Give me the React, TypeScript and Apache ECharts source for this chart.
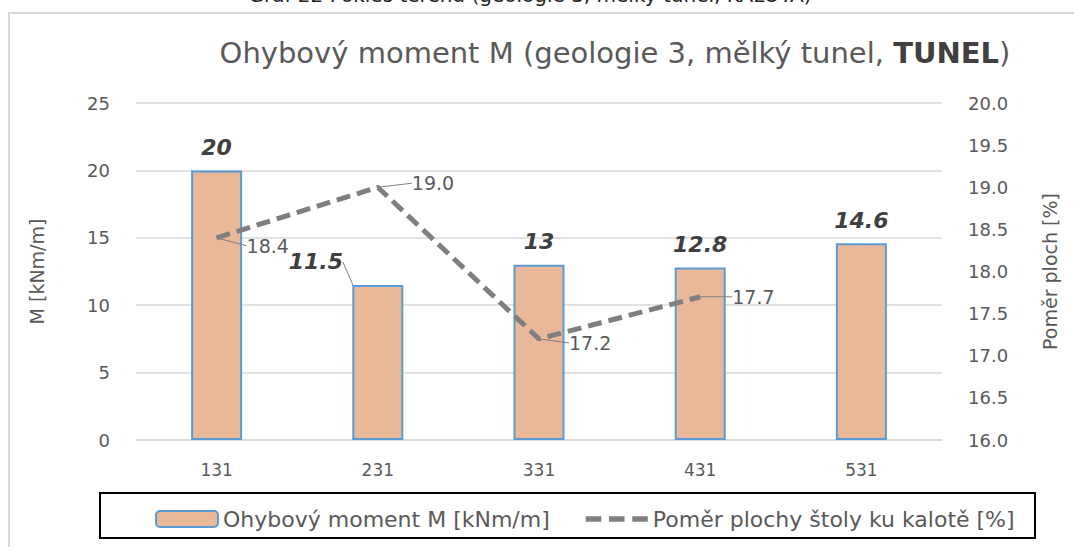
import React, { useEffect, useRef } from "react";
import * as echarts from "echarts";

const categories = ["131", "231", "331", "431", "531"];
const momentValues = [20, 11.5, 13, 12.8, 14.6];
const ratioValues: (number | null)[] = [18.4, 19.0, 17.2, 17.7, null];
const leftTicks = { min: 0, max: 25, interval: 5 };
const rightTicks = { min: 16, max: 20, interval: 0.5 };

const barLabelShift = [
  { dx: 0, dy: 0 },
  { dx: -62, dy: 0 },
  { dx: 0, dy: 0 },
  { dx: 0, dy: 0 },
  { dx: 0, dy: 0 },
];
const lineLabelShift = [
  { dx: 28, dy: 8 },
  { dx: 32, dy: -4 },
  { dx: 28, dy: 4 },
  { dx: 30, dy: 0 },
  { dx: 0, dy: 0 },
];

const FONT = "'DejaVu Sans', 'Noto Sans', sans-serif";
const GRAY = "#595959";

export default function App() {
  const ref = useRef<HTMLDivElement>(null);
  useEffect(() => {
    if (!ref.current) return;
    const chart = echarts.init(ref.current, null, { renderer: "svg" });
    const barData = momentValues.map((v, i) => ({
      value: v,
      labelLine: { show: barLabelShift[i].dx !== 0 },
    }));
    chart.setOption({
      animation: false,
      backgroundColor: "#ffffff",
      textStyle: { fontFamily: FONT },
      title: {
        text: "{a|Ohybový moment M (geologie 3, mělký tunel, }{b|TUNEL}{a|)}",
        left: 610,
        textAlign: "center",
        top: 33,
        textStyle: {
          fontWeight: "normal",
          rich: {
            a: { fontSize: 29, color: GRAY, fontFamily: FONT, fontWeight: "normal" },
            b: { fontSize: 29, color: "#404040", fontWeight: "bold", fontFamily: FONT },
          },
        },
      },
      graphic: [
        {
          type: "rect",
          shape: { x: 9, y: 13, width: 1100, height: 600 },
          style: { fill: "none", stroke: "#d9d9d9", lineWidth: 2 },
          silent: true,
        },
        {
          type: "text",
          x: 530,
          y: 5,
          style: {
            text: "Graf 22 Pokles terénu (geologie 3, mělký tunel, KALOTA)",
            fontSize: 20,
            fontFamily: FONT,
            fill: "#222",
            textAlign: "center",
            textVerticalAlign: "bottom",
          },
        },
        {
          type: "rect",
          shape: { x: 100, y: 493, width: 935, height: 45 },
          style: { fill: "none", stroke: "#000", lineWidth: 2 },
          silent: true,
        },
      ],
      legend: {
        left: 150,
        top: 503,
        itemGap: 36,
        itemWidth: 62,
        itemHeight: 16,
        textStyle: { fontSize: 22, color: GRAY, fontFamily: FONT },
        data: [
          { name: "Ohybový moment M [kNm/m]" },
          {
            name: "Poměr plochy štoly ku kalotě [%]",
            icon: "path://M0,0h14v5h-14z M21,0h14v5h-14z M42,0h14v5h-14z",
            itemStyle: { color: "#7f7f7f", borderWidth: 0 },
          },
        ],
      },
      grid: { left: 136, right: 132, top: 103, bottom: 107 },
      xAxis: {
        type: "category",
        data: categories,
        axisLine: { lineStyle: { color: "#d9d9d9", width: 1.5 } },
        axisTick: { show: false },
        axisLabel: { fontSize: 17, color: GRAY, margin: 21 },
      },
      yAxis: [
        {
          type: "value",
          ...leftTicks,
          name: "M [kNm/m]",
          nameLocation: "middle",
          nameGap: 90,
          nameTextStyle: { fontSize: 19, color: GRAY },
          axisLabel: { fontSize: 18, color: GRAY, margin: 26 },
          splitLine: { lineStyle: { color: "#d9d9d9", width: 1.5 } },
          axisLine: { show: false },
          axisTick: { show: false },
        },
        {
          type: "value",
          ...rightTicks,
          name: "Poměr ploch [%]",
          nameLocation: "middle",
          nameGap: 98,
          nameTextStyle: { fontSize: 19, color: GRAY },
          axisLabel: {
            fontSize: 18,
            color: GRAY,
            margin: 26,
            formatter: (v: number) => v.toFixed(1),
          },
          splitLine: { show: false },
          axisLine: { show: false },
          axisTick: { show: false },
        },
      ],
      series: [
        {
          name: "Ohybový moment M [kNm/m]",
          type: "bar",
          yAxisIndex: 0,
          data: barData,
          barWidth: 51,
          itemStyle: { color: "#e8b898", borderColor: "#5b9bd5", borderWidth: 2 },
          label: {
            show: true,
            position: "top",
            distance: 12,
            fontSize: 22,
            fontWeight: "bold",
            fontStyle: "italic",
            color: "#404040",
            fontFamily: FONT,
          },
          labelLine: { show: false, lineStyle: { color: "#7f7f7f", width: 1 } },
          labelLayout: (p: any) => barLabelShift[p.dataIndex],
          z: 2,
        },
        {
          name: "Poměr plochy štoly ku kalotě [%]",
          type: "line",
          yAxisIndex: 1,
          data: ratioValues,
          showSymbol: true,
          symbol: "circle",
          symbolSize: 0,
          lineStyle: { color: "#7f7f7f", width: 5, type: [14, 7] },
          itemStyle: { color: "#7f7f7f" },
          label: {
            show: true,
            position: "right",
            distance: 2,
            fontSize: 19,
            color: GRAY,
            formatter: (p: any) => Number(p.value).toFixed(1),
            fontFamily: FONT,
          },
          labelLine: { show: true, lineStyle: { color: "#7f7f7f", width: 1 } },
          labelLayout: (p: any) => lineLabelShift[p.dataIndex],
          z: 5,
        },
      ],
    });
    return () => chart.dispose();
  }, []);
  return (
    <div
      ref={ref}
      style={{ position: "absolute", left: 0, top: 0, width: 1074, height: 547 }}
    />
  );
}
